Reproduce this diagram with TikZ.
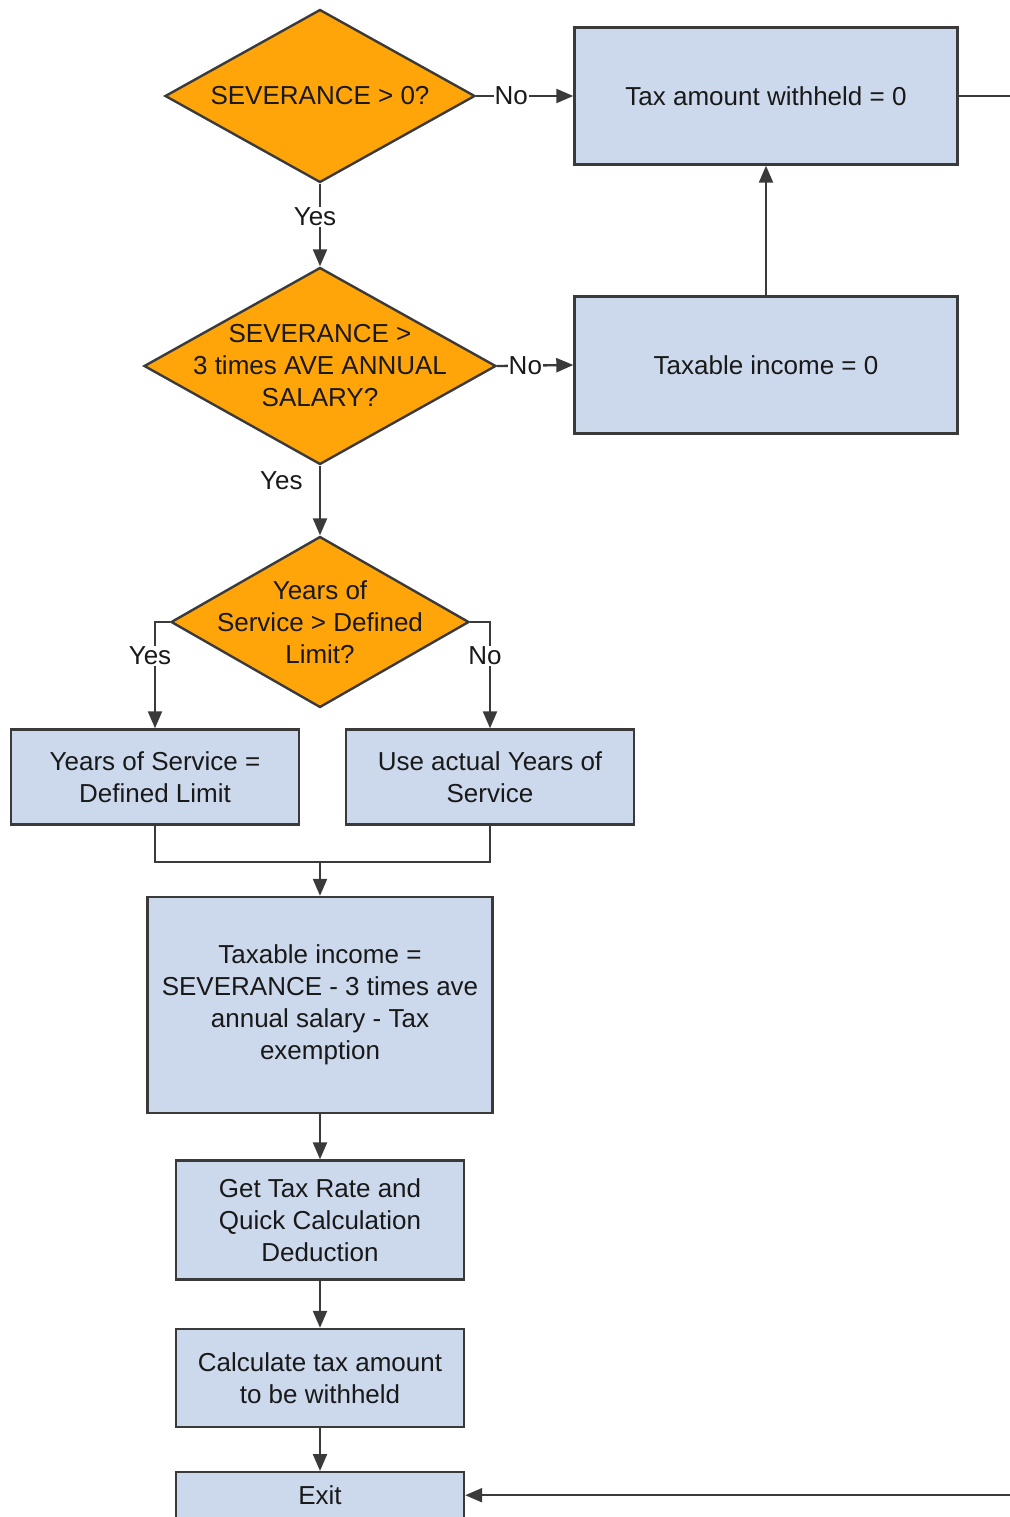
\documentclass[tikz,border=0pt]{standalone}
\usepackage{fontspec}
\setmainfont{Liberation Sans}
\usetikzlibrary{shapes.geometric,arrows.meta}
\definecolor{decorange}{HTML}{FFA50A}
\definecolor{boxblue}{HTML}{CCD9EC}
\definecolor{edgegray}{HTML}{3A3A3A}
\tikzset{
  txt/.style={font=\fontsize{26}{32}\selectfont, text=black!90, align=center},
  box/.style={txt, draw=edgegray, line width=2.4pt, fill=boxblue, inner sep=0pt},
  dec/.style={shape=diamond, draw=edgegray, line width=2.4pt, fill=decorange, inner sep=0pt},
  lbl/.style={txt, fill=white, inner sep=1pt},
  conn/.style={draw=edgegray, line width=2.3pt, -{Triangle[length=17pt,width=14pt]}},
  plain/.style={draw=edgegray, line width=2.3pt},
}
\begin{document}
\begin{tikzpicture}[x=1pt,y=-1pt]
\useasboundingbox (0,0) rectangle (1009,1517);
% decisions
\node[dec, minimum width=310pt, minimum height=173pt, label={[txt]center:SEVERANCE > 0?}] (sev) at (320,96) {};
\node[dec, minimum width=352pt, minimum height=197pt, label={[txt]center:SEVERANCE >\\3 times AVE ANNUAL\\SALARY?}] (sal) at (320,366) {};
\node[dec, minimum width=298pt, minimum height=171pt, label={[txt]center:Years of\\Service > Defined\\Limit?}] (yrs) at (320,622) {};
% boxes
\node[box, minimum width=383pt, minimum height=137pt] (tax0) at (766,96) {Tax amount withheld = 0};
\node[box, minimum width=383pt, minimum height=137pt] (inc0) at (766,365) {Taxable income = 0};
\node[box, minimum width=288pt, minimum height=95pt] (yl) at (155,777) {Years of Service =\\Defined Limit};
\node[box, minimum width=288pt, minimum height=95pt] (ua) at (490,777) {Use actual Years of\\Service};
\node[box, minimum width=345pt, minimum height=216pt] (inc) at (320,1005) {Taxable income =\\SEVERANCE - 3 times ave\\annual salary - Tax\\exemption};
\node[box, minimum width=288pt, minimum height=119pt] (rate) at (320,1220) {Get Tax Rate and\\Quick Calculation\\Deduction};
\node[box, minimum width=288pt, minimum height=98pt] (calc) at (320,1378) {Calculate tax amount\\to be withheld};
\node[box, minimum width=288pt, minimum height=62pt, anchor=north, label={[txt,yshift=8pt]center:Exit}] (exit) at (320,1471) {};
% connectors
\draw[conn] (sev.south) -- node[lbl, pos=0.4, xshift=-5pt] {Yes} (sal.north);
\draw[conn] (sev.east) -- node[lbl, pos=0.36] {No} (tax0.west);
\draw[conn] (inc0.north) -- (tax0.south);
\draw[conn] (sal.east) -- node[lbl, pos=0.37] {No} (inc0.west);
\draw[conn] (sal.south) -- node[txt, anchor=east, pos=0.22, xshift=-13pt] {Yes} (yrs.north);
\draw[conn] (yrs.west) -| node[lbl, pos=0.66, xshift=-5pt] {Yes} (yl.north);
\draw[conn] (yrs.east) -| node[lbl, pos=0.66, xshift=-5pt] {No} (ua.north);
\coordinate (join) at (320,862);
\draw[plain] (yl.south) |- (join);
\draw[plain] (ua.south) |- (join);
\draw[conn] (join) -- (inc.north);
\draw[conn] (inc.south) -- (rate.north);
\draw[conn] (rate.south) -- (calc.north);
\draw[conn] (calc.south) -- (exit.north);
\coordinate (offpage) at (1040,96);
\draw[conn] (tax0.east) -- (offpage) |- ([yshift=8pt]exit.east);
\end{tikzpicture}
\end{document}
